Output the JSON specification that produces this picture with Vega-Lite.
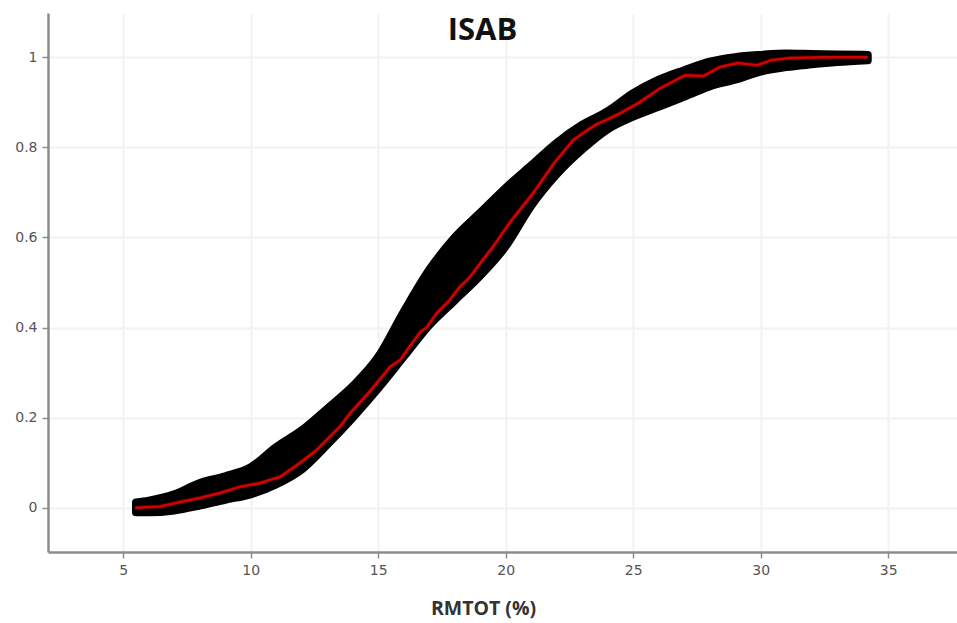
{
  "$schema": "https://vega.github.io/schema/vega-lite/v6.json",
  "width": 909,
  "height": 539,
  "autosize": {"type": "none"},
  "padding": {"left": 48, "top": 13, "right": 0, "bottom": 71},
  "background": "white",
  "title": {
    "text": "ISAB",
    "font": "Open Sans",
    "fontWeight": "bold",
    "fontSize": 31,
    "color": "#111111",
    "anchor": "middle",
    "dx": -20,
    "offset": -36,
    "dy": 22,
    "baseline": "alphabetic"
  },
  "config": {
    "view": {"stroke": null},
    "axis": {
      "gridColor": "#f2f2f2",
      "gridWidth": 2,
      "domainColor": "#8c8c8c",
      "domainWidth": 2.5,
      "tickColor": "#8c8c8c",
      "tickWidth": 1.5,
      "tickSize": 6,
      "labelColor": "#555555",
      "labelFont": "DejaVu Sans",
      "labelFontSize": 14
    }
  },
  "datasets": {
    "band": [
      {"x": 5.5, "lo": -0.01, "hi": 0.012},
      {"x": 6.0, "lo": -0.01, "hi": 0.016},
      {"x": 7.0, "lo": -0.006, "hi": 0.03},
      {"x": 8.0, "lo": 0.005, "hi": 0.055},
      {"x": 9.0, "lo": 0.018, "hi": 0.07},
      {"x": 10.0, "lo": 0.03, "hi": 0.09},
      {"x": 11.0, "lo": 0.052, "hi": 0.135},
      {"x": 12.0, "lo": 0.085, "hi": 0.172},
      {"x": 13.0, "lo": 0.14, "hi": 0.22},
      {"x": 14.0, "lo": 0.2, "hi": 0.27},
      {"x": 15.0, "lo": 0.265, "hi": 0.335},
      {"x": 16.0, "lo": 0.335, "hi": 0.435},
      {"x": 17.0, "lo": 0.405, "hi": 0.528},
      {"x": 18.0, "lo": 0.46, "hi": 0.6},
      {"x": 19.0, "lo": 0.515, "hi": 0.655},
      {"x": 20.0, "lo": 0.58, "hi": 0.71},
      {"x": 21.0, "lo": 0.67, "hi": 0.76},
      {"x": 22.0, "lo": 0.74, "hi": 0.81},
      {"x": 23.0, "lo": 0.795, "hi": 0.85},
      {"x": 24.0, "lo": 0.84, "hi": 0.88},
      {"x": 25.0, "lo": 0.868, "hi": 0.92},
      {"x": 26.0, "lo": 0.89, "hi": 0.95},
      {"x": 27.0, "lo": 0.912, "hi": 0.971},
      {"x": 28.0, "lo": 0.935, "hi": 0.99},
      {"x": 29.0, "lo": 0.95, "hi": 1.0},
      {"x": 30.0, "lo": 0.968, "hi": 1.005},
      {"x": 31.0, "lo": 0.978, "hi": 1.008},
      {"x": 32.0, "lo": 0.984, "hi": 1.007},
      {"x": 33.0, "lo": 0.989, "hi": 1.006},
      {"x": 34.2, "lo": 0.993, "hi": 1.005}
    ],
    "ref": [
      {"x": 5.47, "y": 0.0}, {"x": 6.45, "y": 0.003}, {"x": 7.24, "y": 0.013},
      {"x": 8.0, "y": 0.022}, {"x": 8.8, "y": 0.033}, {"x": 9.6, "y": 0.047},
      {"x": 10.37, "y": 0.055}, {"x": 10.76, "y": 0.062}, {"x": 11.16, "y": 0.069},
      {"x": 11.94, "y": 0.1}, {"x": 12.6, "y": 0.129}, {"x": 13.5, "y": 0.18},
      {"x": 13.9, "y": 0.21}, {"x": 14.7, "y": 0.26}, {"x": 15.47, "y": 0.313},
      {"x": 15.86, "y": 0.328}, {"x": 16.14, "y": 0.35}, {"x": 16.65, "y": 0.39},
      {"x": 16.9, "y": 0.4}, {"x": 17.3, "y": 0.432}, {"x": 17.8, "y": 0.461},
      {"x": 18.2, "y": 0.49}, {"x": 18.6, "y": 0.512}, {"x": 19.1, "y": 0.55},
      {"x": 19.5, "y": 0.579}, {"x": 20.2, "y": 0.636}, {"x": 21.1, "y": 0.7},
      {"x": 21.9, "y": 0.765}, {"x": 22.65, "y": 0.816}, {"x": 23.2, "y": 0.838},
      {"x": 23.6, "y": 0.852}, {"x": 24.0, "y": 0.862}, {"x": 24.5, "y": 0.876},
      {"x": 25.2, "y": 0.898}, {"x": 26.06, "y": 0.931}, {"x": 27.04, "y": 0.96},
      {"x": 27.75, "y": 0.958}, {"x": 28.4, "y": 0.978}, {"x": 29.1, "y": 0.987},
      {"x": 29.86, "y": 0.982}, {"x": 30.4, "y": 0.993}, {"x": 31.16, "y": 0.998},
      {"x": 32.45, "y": 1.0}, {"x": 34.2, "y": 1.0}
    ]
  },
  "layer": [
    {
      "data": {"name": "band"},
      "mark": {"type": "area", "interpolate": "monotone", "color": "black", "stroke": "black", "strokeWidth": 8, "strokeJoin": "round", "strokeCap": "round"},
      "encoding": {
        "x": {
          "field": "x", "type": "quantitative",
          "scale": {"domain": [2.05, 37.7], "nice": false, "zero": false},
          "axis": {
            "values": [5, 10, 15, 20, 25, 30, 35],
            "title": "RMTOT (%)",
            "titleFont": "Open Sans",
            "titleFontWeight": "bold",
            "titleFontSize": 19.5,
            "titleColor": "#333333",
            "titleX": 435,
            "titleY": 56,
            "titleBaseline": "middle",
            "labelPadding": 5
          }
        },
        "y": {
          "field": "lo", "type": "quantitative",
          "scale": {"domain": [-0.098, 1.098], "nice": false, "zero": false},
          "axis": {
            "values": [0, 0.2, 0.4, 0.6, 0.8, 1],
            "format": "~g",
            "title": null,
            "labelPadding": 5
          }
        },
        "y2": {"field": "hi"}
      }
    },
    {
      "data": {"name": "ref"},
      "mark": {"type": "line", "color": "#3a0000", "strokeWidth": 4.5, "strokeJoin": "round"},
      "encoding": {
        "x": {"field": "x", "type": "quantitative"},
        "y": {"field": "y", "type": "quantitative"}
      }
    },
    {
      "data": {"name": "ref"},
      "mark": {"type": "line", "color": "#d60000", "strokeWidth": 2.5, "strokeJoin": "round"},
      "encoding": {
        "x": {"field": "x", "type": "quantitative"},
        "y": {"field": "y", "type": "quantitative"}
      }
    }
  ]
}
